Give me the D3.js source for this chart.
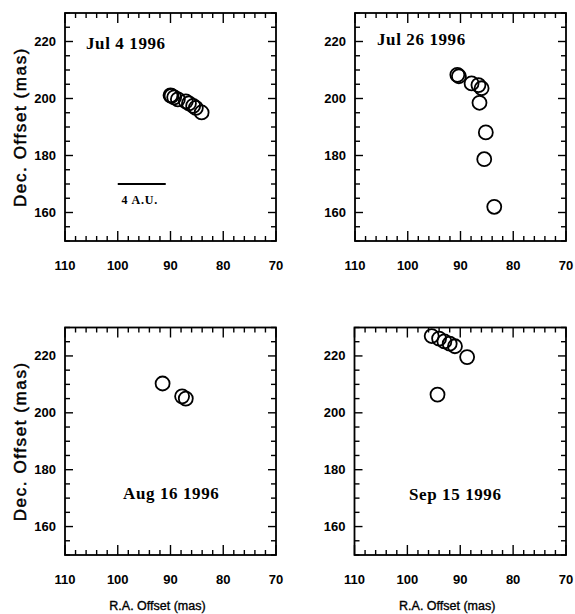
<!DOCTYPE html>
<html>
<head>
<meta charset="utf-8">
<script src="https://cdn.jsdelivr.net/npm/d3@7"></script>
<style>
  body { margin: 0; background: #fff; }
  svg { display: block; }
</style>
</head>
<body>
<div id="chart"></div>
<script>
// --- data (R.A. / Dec. offsets in mas) ---
const jul4Ra  = [90.0, 89.8, 89.3, 88.6, 87.1, 86.5, 85.7, 85.2, 84.1];
const jul4Dec = [201.1, 200.9, 200.4, 199.7, 199.0, 198.3, 197.4, 196.7, 195.1];

const jul26Ra  = [90.6, 90.3, 87.9, 86.6, 86.0, 86.4, 85.2, 85.5, 83.6];
const jul26Dec = [208.3, 207.8, 205.3, 204.7, 203.6, 198.5, 188.1, 178.7, 162.0];

const aug16Ra  = [91.5, 87.8, 87.1];
const aug16Dec = [210.3, 205.8, 205.0];

const sep15Ra  = [95.4, 94.0, 93.0, 92.0, 91.0, 88.7, 94.3];
const sep15Dec = [227.0, 226.1, 225.1, 224.3, 223.4, 219.6, 206.4];

const dateLabels = ["Jul 4 1996", "Jul 26 1996", "Aug 16 1996", "Sep 15 1996"];
const xTickValues = [110, 100, 90, 80, 70];
const yTickValues = [160, 180, 200, 220];
const xDomain = [110, 70];
const yDomain = [150, 230];

// scale bar (4 A.U.) in the first panel, data coords
const scaleBarRa = [100, 90.9];
const scaleBarDec = 170;

const W = 575, H = 614;

const panels = [
  { ra: jul4Ra,  dec: jul4Dec,  label: dateLabels[0], x0: 65,    x1: 276, y0: 13,    y1: 241, lx: 86,  ly: 49,  yTitle: true,  xTitle: false },
  { ra: jul26Ra, dec: jul26Dec, label: dateLabels[1], x0: 355,   x1: 566, y0: 13,    y1: 241, lx: 377, ly: 45,  yTitle: false, xTitle: false },
  { ra: aug16Ra, dec: aug16Dec, label: dateLabels[2], x0: 65,    x1: 276, y0: 327.5, y1: 555, lx: 123, ly: 499, yTitle: true,  xTitle: true },
  { ra: sep15Ra, dec: sep15Dec, label: dateLabels[3], x0: 354.5, x1: 566, y0: 327.5, y1: 555, lx: 409, ly: 500, yTitle: false, xTitle: true }
];

const svg = d3.select("#chart")
  .append("svg")
  .attr("width", W)
  .attr("height", H);

panels.forEach((p, i) => {
  const x = d3.scaleLinear().domain(xDomain).range([p.x0, p.x1]);
  const y = d3.scaleLinear().domain(yDomain).range([p.y1, p.y0]);
  const g = svg.append("g");

  // ticks on all four sides, pointing inward
  const xMinor = d3.range(110, 69, -2);
  const yMinor = d3.range(150, 231, 5);
  xMinor.forEach(v => {
    const len = v % 10 === 0 ? 10 : 5;
    g.append("line").attr("x1", x(v)).attr("x2", x(v)).attr("y1", p.y1).attr("y2", p.y1 - len)
      .attr("stroke", "#000").attr("stroke-width", 1.4);
    g.append("line").attr("x1", x(v)).attr("x2", x(v)).attr("y1", p.y0).attr("y2", p.y0 + len)
      .attr("stroke", "#000").attr("stroke-width", 1.4);
  });
  yMinor.forEach(v => {
    const len = v % 20 === 0 && v !== 150 ? 8 : 5;
    g.append("line").attr("x1", p.x0).attr("x2", p.x0 + len).attr("y1", y(v)).attr("y2", y(v))
      .attr("stroke", "#000").attr("stroke-width", 1.4);
    g.append("line").attr("x1", p.x1).attr("x2", p.x1 - len).attr("y1", y(v)).attr("y2", y(v))
      .attr("stroke", "#000").attr("stroke-width", 1.4);
  });

  // frame
  g.append("rect")
    .attr("x", p.x0).attr("y", p.y0)
    .attr("width", p.x1 - p.x0).attr("height", p.y1 - p.y0)
    .attr("fill", "none").attr("stroke", "#000").attr("stroke-width", 1.8);

  // tick labels
  g.selectAll(".xlab").data(xTickValues).enter().append("text")
    .attr("x", d => x(d)).attr("y", p.y1 + 29)
    .attr("text-anchor", "middle")
    .style("font-family", "'Liberation Sans', Arial, sans-serif")
    .style("font-weight", "bold").style("font-size", "13px")
    .text(d => d);
  g.selectAll(".ylab").data(yTickValues).enter().append("text")
    .attr("x", p.x0 - 9).attr("y", d => y(d) + 4.5)
    .attr("text-anchor", "end")
    .style("font-family", "'Liberation Sans', Arial, sans-serif")
    .style("font-weight", "bold").style("font-size", "13px")
    .text(d => d);

  // date label
  g.append("text")
    .attr("x", p.lx).attr("y", p.ly)
    .style("font-family", "'Liberation Serif', 'Times New Roman', serif")
    .style("font-weight", "bold").style("font-size", "17px")
    .style("letter-spacing", "0.6px")
    .text(p.label);

  // points
  g.selectAll("circle").data(p.ra.map((r, k) => [r, p.dec[k]])).enter().append("circle")
    .attr("cx", d => x(d[0])).attr("cy", d => y(d[1]))
    .attr("r", 7)
    .attr("fill", "none").attr("stroke", "#000").attr("stroke-width", 1.8);

  if (i === 0) {
    g.append("line")
      .attr("x1", x(scaleBarRa[0])).attr("x2", x(scaleBarRa[1]))
      .attr("y1", y(scaleBarDec)).attr("y2", y(scaleBarDec))
      .attr("stroke", "#000").attr("stroke-width", 2);
    g.append("text")
      .attr("x", (x(scaleBarRa[0]) + x(scaleBarRa[1])) / 2 - 2).attr("y", y(scaleBarDec) + 20)
      .attr("text-anchor", "middle")
      .style("font-family", "'Liberation Serif', 'Times New Roman', serif")
      .style("font-weight", "bold").style("font-size", "12px")
      .style("letter-spacing", "0.8px")
      .text("4 A.U.");
  }

  if (p.yTitle) {
    const cy = (p.y0 + p.y1) / 2;
    g.append("text")
      .attr("transform", `translate(26,${cy}) rotate(-90)`)
      .attr("text-anchor", "middle")
      .style("font-family", "'Liberation Sans', Arial, sans-serif")
      .style("font-size", "17px")
      .style("letter-spacing", "1.6px")
      .attr("stroke", "#000").attr("stroke-width", 0.5)
      .text("Dec. Offset (mas)");
  }

  if (p.xTitle) {
    g.append("text")
      .attr("x", (p.x0 + p.x1) / 2 - 13).attr("y", 610)
      .attr("text-anchor", "middle")
      .style("font-family", "'Liberation Sans', Arial, sans-serif")
      .style("font-size", "12.5px")
      .attr("stroke", "#000").attr("stroke-width", 0.35)
      .text("R.A. Offset (mas)");
  }
});
</script>
</body>
</html>
